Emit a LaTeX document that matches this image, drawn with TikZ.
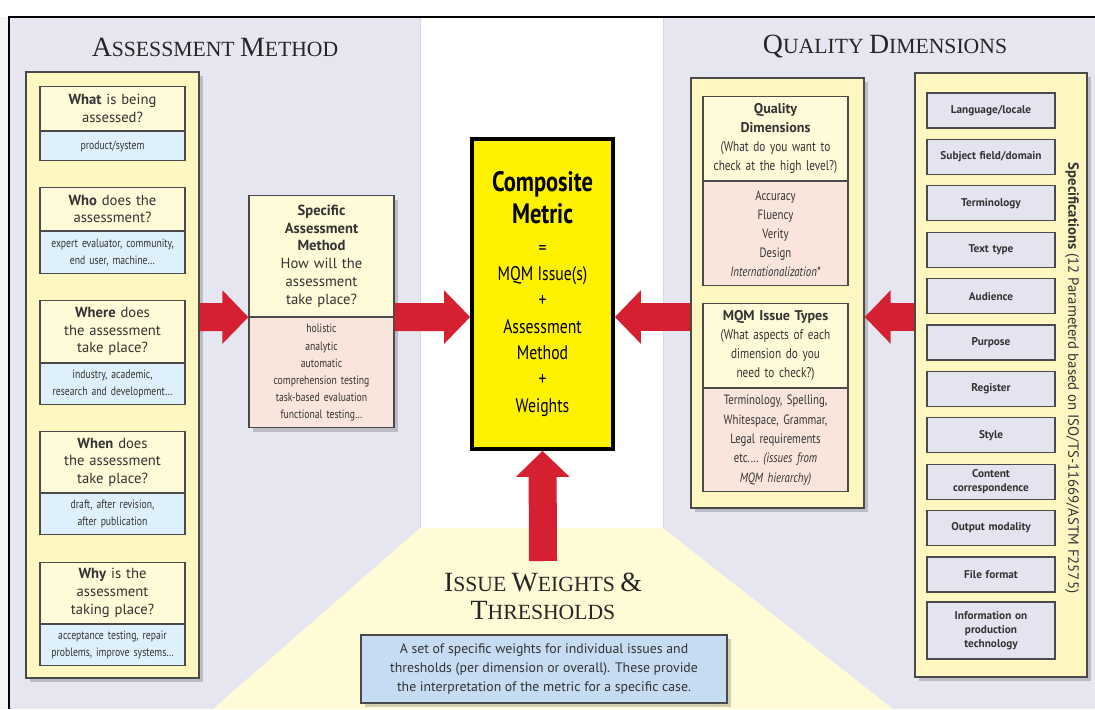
\documentclass[tikz,border=0pt]{standalone}
\usepackage{fontspec}
\newfontfamily\cardfont{PT Sans}
\newfontfamily\narrowfont[FakeStretch=0.8]{PT Sans}
\newfontfamily\titlefont{Liberation Serif}
\usepackage{tikz}
\usetikzlibrary{arrows.meta,positioning,shadows}

\definecolor{panelbg}{HTML}{E6E6F0}
\definecolor{trapyellow}{HTML}{FFFBD6}
\definecolor{boxyellow}{HTML}{FFF7C2}
\definecolor{headyellow}{HTML}{FFFAD8}
\definecolor{cellblue}{HTML}{DDF0FB}
\definecolor{cellpink}{HTML}{FAE5DC}
\definecolor{itemlav}{HTML}{E4E4F0}
\definecolor{compyellow}{HTML}{FFF200}
\definecolor{arrowred}{HTML}{D42030}
\definecolor{noteblue}{HTML}{C6DCF2}
\definecolor{textgray}{HTML}{333333}
\definecolor{lineg}{HTML}{4A4A4A}

\tikzset{
  softshadow/.style={drop shadow={shadow xshift=3pt, shadow yshift=-3pt, fill=black, opacity=0.18}},
  bigbox/.style={draw=lineg, line width=1.3pt, fill=boxyellow, softshadow},
  headcell/.style={draw=lineg, line width=0.8pt, fill=headyellow, anchor=north,
    minimum width=3.625cm, text width=3.45cm, inner sep=1pt, align=center,
    text=textgray, font=\cardfont\fontsize{10.4}{12.6}\selectfont},
  bluecell/.style={headcell, fill=cellblue, font=\narrowfont\fontsize{8.6}{12.2}\selectfont},
  pinkcell/.style={headcell, fill=cellpink, font=\narrowfont\fontsize{8.6}{12.2}\selectfont},
  specitem/.style={draw=lineg, line width=0.8pt, fill=itemlav, minimum width=3.2cm,
    minimum height=0.875cm, text width=3.1cm, inner sep=1pt, align=center,
    text=textgray, font=\cardfont\bfseries\fontsize{8}{10}\selectfont},
  paneltitle/.style={text=black!85, font=\titlefont\fontsize{15.4}{20}\selectfont},
  bigarrow/.style={draw=arrowred, line width=0.7cm, -{Triangle[length=0.65cm,width=1.3cm]}}
}

\begin{document}
\begin{tikzpicture}[x=0.025cm, y=-0.025cm]

\useasboundingbox (0,0) rectangle (1095,709);

% backgrounds
\fill[black!4] (0,0) rectangle (1095,709);
\fill[white] (0,0) rectangle (1095,17);
\fill[panelbg] (9,17) rectangle (1095,709);
\fill[white] (420,18) rectangle (663,528);
\draw[black!15] (420,18) -- (420,528) -- (663,528) -- (663,18);
\fill[trapyellow] (420,528) -- (663,528) -- (893,709) -- (213,709) -- cycle;
\draw[line width=1.5pt] (9,709) -- (9,17) -- (1095,17);

\node[paneltitle] (amtitle) at (215,47) {{\fontsize{19.8}{20}\selectfont A}SSESSMENT {\fontsize{19.8}{20}\selectfont M}ETHOD};
\node[paneltitle] (qdtitle) at (885,47) {{\fontsize{19.8}{20}\selectfont Q}UALITY {\fontsize{19.8}{20}\selectfont D}IMENSIONS};
\node[paneltitle, align=center] (iwtitle) at (543,596) {{\fontsize{19.8}{20}\selectfont I}SSUE {\fontsize{19.8}{20}\selectfont W}EIGHTS {\fontsize{19.8}{20}\selectfont\&}\\{\fontsize{19.8}{20}\selectfont T}HRESHOLDS};

% assessment method column
\node[bigbox, minimum width=4.325cm, minimum height=15.15cm] (leftbox) at (112.5,375) {};

\node[headcell, minimum height=1.1cm] (what) at (112.5,86) {\textbf{What} is being\\assessed?};
\node[bluecell, minimum height=0.725cm, below=0pt of what] (whatb) {product/system};

\node[headcell, minimum height=1.075cm] (who) at (112.5,187) {\textbf{Who} does the\\assessment?};
\node[bluecell, minimum height=1.05cm, below=0pt of who] (whob) {expert evaluator, community,\\end user, machine\ldots};

\node[headcell, minimum height=1.55cm] (where) at (112.5,300) {\textbf{Where} does\\the assessment\\take place?};
\node[bluecell, minimum height=1.025cm, below=0pt of where] (whereb) {industry, academic,\\research and development\ldots};

\node[headcell, minimum height=1.525cm] (when) at (112.5,431) {\textbf{When} does\\the assessment\\take place?};
\node[bluecell, minimum height=1.025cm, below=0pt of when] (whenb) {draft, after revision,\\after publication};

\node[headcell, minimum height=1.525cm] (why) at (112.5,562) {\textbf{Why} is the\\assessment\\taking place?};
\node[bluecell, minimum height=1.025cm, below=0pt of why] (whyb) {acceptance testing, repair\\problems, improve systems\ldots};

\node[headcell, softshadow, minimum height=3.025cm] (sam) at (321.5,195) {\textbf{Specific}\\\textbf{Assessment}\\\textbf{Method}\\How will the\\assessment\\take place?};
\node[pinkcell, softshadow, minimum height=2.75cm, below=0pt of sam] (samb) {holistic\\analytic\\automatic\\comprehension testing\\task-based evaluation\\functional testing\ldots};

% composite metric
\node[draw=black, line width=2.6pt, fill=compyellow, minimum width=3.525cm, minimum height=7.75cm,
  align=center, font=\narrowfont\fontsize{14}{18.7}\selectfont] (comp) at (542.5,294)
  {{\bfseries\fontsize{20}{23}\selectfont Composite}\\[4pt]{\bfseries\fontsize{20}{23}\selectfont Metric}\\[3pt]=\\MQM Issue(s)\\+\\Assessment\\Method\\+\\Weights};

% quality dimensions column
\node[bigbox, line width=0.9pt, minimum width=4.325cm, minimum height=10.75cm] (qual) at (777.5,293) {};

\node[headcell, minimum height=2.1cm, font=\cardfont\fontsize{10}{13.5}\selectfont] (qdim) at (775.5,96)
  {\textbf{Quality}\\\textbf{Dimensions}\\{\narrowfont (What do you want to}\\{\narrowfont check at the high level?)}};
\node[pinkcell, minimum height=2.6cm, font=\narrowfont\fontsize{9.6}{13.6}\selectfont, below=0pt of qdim] (qdimb)
  {Accuracy\\Fluency\\Verity\\Design\\\textit{Internationalization*}};

\node[headcell, minimum height=2.1cm, font=\cardfont\fontsize{10}{13.6}\selectfont] (mqm) at (775.5,303)
  {\textbf{MQM Issue Types}\\{\narrowfont (What aspects of each}\\{\narrowfont dimension do you}\\{\narrowfont need to check?)}};
\node[pinkcell, minimum height=2.575cm, font=\narrowfont\fontsize{9.6}{13.8}\selectfont, below=0pt of mqm] (mqmb)
  {Terminology, Spelling,\\Whitespace, Grammar,\\Legal requirements\\etc.\ldots\ \textit{(issues from}\\\textit{MQM hierarchy)}};

% specifications column
\node[bigbox, line width=1.6pt, minimum width=4.3cm, minimum height=15.1cm] (spec) at (1001,375) {};

\node[specitem] (lang) at (991,110.5) {Language/locale};
\node[specitem] (subj) at (991,156.9) {Subject field/domain};
\node[specitem] (term) at (991,203.3) {Terminology};
\node[specitem] (ttype) at (991,249.7) {Text type};
\node[specitem] (aud) at (991,296.1) {Audience};
\node[specitem] (purp) at (991,342.5) {Purpose};
\node[specitem] (reg) at (991,388.9) {Register};
\node[specitem] (style) at (991,435.3) {Style};
\node[specitem] (corr) at (991,481.7) {Content\\correspondence};
\node[specitem] (outm) at (991,528.1) {Output modality};
\node[specitem] (ffmt) at (991,574.5) {File format};
\node[specitem, minimum height=1.425cm] (prod) at (991,630.5) {Information on\\production\\technology};

\node[rotate=-90, text=textgray, font=\cardfont\fontsize{10.5}{12}\selectfont] (spectext) at (1072,378)
  {\textbf{Specifications} (12 Parameterd based on ISO/TS-11669/ASTM F2575)};

% weights note
\node[draw=lineg, line width=0.8pt, fill=noteblue, softshadow, minimum width=9.15cm, minimum height=1.7cm,
  align=center, text=textgray, font=\cardfont\fontsize{9.8}{13.8}\selectfont] (note) at (544,669)
  {A set of specific weights for individual issues and\\thresholds (per dimension or overall). These provide\\the interpretation of the metric for a specific case.};

% arrows
\coordinate (mid) at (0,317);
\coordinate (wtop) at (543,561);
\draw[bigarrow] (leftbox.east |- mid) -- (sam.south west);
\draw[bigarrow] (sam.south east) -- (comp.west |- mid);
\draw[bigarrow] (qual.west |- mid) -- (comp.east |- mid);
\draw[bigarrow] (spec.west |- mid) -- (qual.east |- mid);
\draw[bigarrow] (wtop) -- (comp.south);

\end{tikzpicture}
\end{document}
